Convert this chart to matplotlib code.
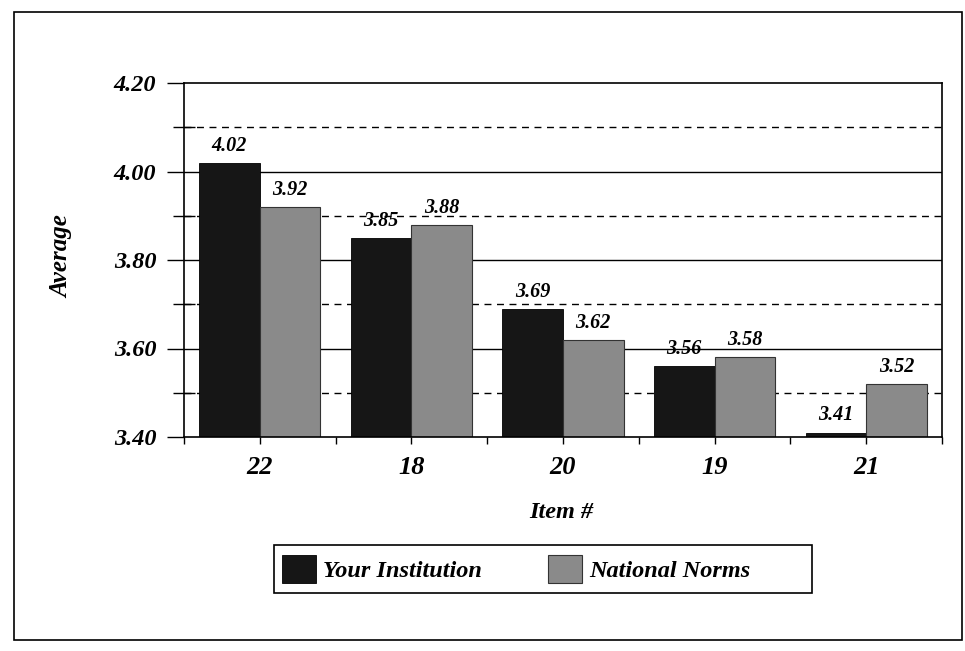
#!/usr/bin/env python3
"""Grouped bar chart: item averages, institution vs national norms."""

import matplotlib

matplotlib.use("Agg")
import matplotlib.pyplot as plt
import numpy as np
from matplotlib.patches import Rectangle

items = ["22", "18", "20", "19", "21"]
your_institution = [4.02, 3.85, 3.69, 3.56, 3.41]
national_norms = [3.92, 3.88, 3.62, 3.58, 3.52]
y_ticks = [3.40, 3.60, 3.80, 4.00, 4.20]
y_minor = [3.50, 3.70, 3.90, 4.10]

SERIF = "Liberation Serif"
BLACK = "#161616"
GRAY = "#8a8a8a"
BI = dict(fontweight="bold", fontstyle="italic", family=SERIF)

fig = plt.figure(figsize=(9.65, 6.51), dpi=100)
W, H = 965.0, 651.0

# outer page frame
fig.patches.append(
    Rectangle((14 / W, 1 - 640 / H), 948 / W, 628 / H, transform=fig.transFigure,
              fill=False, edgecolor="black", linewidth=1.2)
)

ax = fig.add_axes([184 / W, 1 - 437 / H, 758 / W, 354 / H])
x = np.arange(len(items))
width = 0.40

ax.set_ylim(3.40, 4.20)
ax.set_xlim(-0.5, len(items) - 0.5)

for yv in y_ticks[1:-1]:
    ax.axhline(yv, color="black", linewidth=1.0, zorder=0)
for yv in y_minor:
    ax.axhline(yv, color="black", linewidth=1.0, linestyle=(0, (5, 4)), zorder=0)

b1 = ax.bar(x - width / 2, your_institution, width, color=BLACK,
            edgecolor="black", linewidth=0.6, label="Your Institution", zorder=2)
b2 = ax.bar(x + width / 2, national_norms, width, color=GRAY,
            edgecolor="#333333", linewidth=0.8, label="National Norms", zorder=2)

for bars, vals in ((b1, your_institution), (b2, national_norms)):
    for bar, v in zip(bars, vals):
        ax.text(bar.get_x() + bar.get_width() / 2, v + 0.016, f"{v:.2f}",
                ha="center", va="bottom", fontsize=14.5, zorder=3, **BI)

ax.set_yticks(y_ticks)
ax.set_yticklabels([f"{v:.2f}" for v in y_ticks], fontsize=17.5, **BI)
ax.set_yticks(y_minor, minor=True)
ax.tick_params(axis="y", which="major", direction="out", length=12, width=1.0,
               pad=8)
ax.tick_params(axis="y", which="minor", direction="inout", length=16, width=1.0)

ax.set_xticks(x)
ax.set_xticklabels(items, fontsize=19, **BI)
ax.set_xticks(np.arange(len(items) + 1) - 0.5, minor=True)
ax.tick_params(axis="x", which="both", direction="out", length=5, width=1.0,
               pad=9)

for spine in ax.spines.values():
    spine.set_linewidth(1.2)

fig.text(62 / W, 1 - 257 / H, "Average", rotation=90, ha="center",
         va="center", fontsize=18, **BI)
fig.text(561 / W, 1 - 512 / H, "Item #", ha="center", va="center",
         fontsize=17.5, **BI)

# legend box drawn separately so it can be wider than its contents
fig.patches.append(
    Rectangle((274 / W, 1 - 593 / H), 538 / W, 48 / H, transform=fig.transFigure,
              fill=False, edgecolor="black", linewidth=1.2)
)
fig.legend(handles=[b1, b2], loc="center left", ncol=2,
           bbox_to_anchor=(270 / W, 1 - 569 / H), frameon=False,
           handlelength=1.4, handleheight=1.45, columnspacing=2.7,
           handletextpad=0.3, borderpad=0.0,
           prop={"family": SERIF, "size": 17.5, "weight": "bold",
                 "style": "italic"})

fig.savefig("out.png", dpi=100)
